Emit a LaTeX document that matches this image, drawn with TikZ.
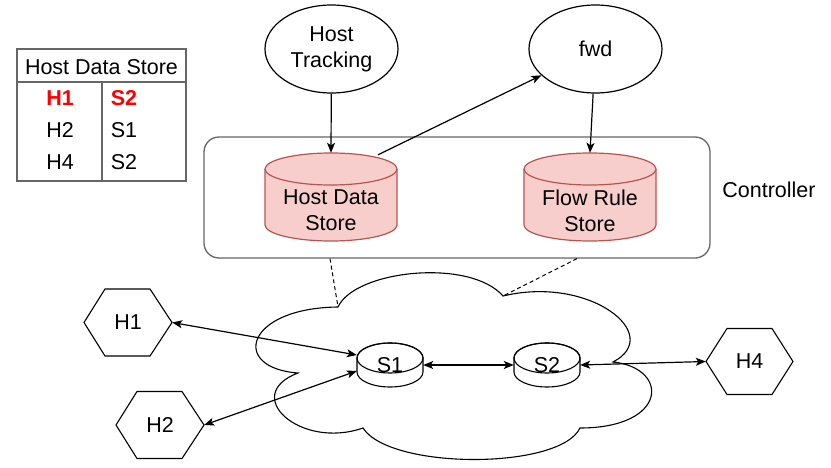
\documentclass[tikz,border=0pt]{standalone}
\usepackage{fontspec}
\setmainfont{Liberation Sans}
\usetikzlibrary{arrows.meta,shapes.geometric}
\definecolor{storefill}{HTML}{F8CECC}
\definecolor{storeline}{HTML}{B85450}
\definecolor{boxgray}{HTML}{666666}
\definecolor{hot}{HTML}{FF0000}
\begin{document}
\begin{tikzpicture}[x=1pt,y=-1pt,
  every node/.style={font=\fontsize{21.5pt}{26pt}\selectfont, inner sep=0pt},
  base/.style={line width=1.2pt, black},
  arr/.style={base, -{Stealth[length=10pt,width=8pt,inset=2.5pt]}},
  biarr/.style={base, {Stealth[length=10pt,width=8pt,inset=2.5pt]}-{Stealth[length=10pt,width=8pt,inset=2.5pt]}},
  proc/.style={ellipse, draw, line width=1.2pt, minimum width=133pt, minimum height=88pt, align=center},
  storebox/.style={minimum width=132pt, minimum height=88pt},
  storefillstyle/.style={fill=storefill, draw=storeline, line width=1.2pt},
  switchbox/.style={minimum width=66pt, minimum height=44pt},
  hostbox/.style={minimum width=88pt, minimum height=67pt},
  ctrlbox/.style={draw=boxgray, line width=1.3pt, rounded corners=15pt, minimum width=506pt, minimum height=121pt},
  tblline/.style={draw=boxgray, line width=1.5pt},
  dashline/.style={line width=1pt, dash pattern=on 4pt off 3pt}
]
\useasboundingbox (0,0) rectangle (831,468);

% ---- table ----
\draw[tblline] (17,49) rectangle (186,181);
\draw[tblline] (17,82) -- (186,82);
\draw[tblline] (102,82) -- (102,181);
\node (th) at (101.5,67) {Host Data Store};
\node[text=hot, font=\fontsize{21.5pt}{26pt}\selectfont\bfseries] (t1a) at (60,98) {H1};
\node[text=hot, font=\fontsize{21.5pt}{26pt}\selectfont\bfseries] (t1b) at (124,98) {S2};
\node (t2a) at (60,130) {H2};
\node (t2b) at (124,130) {S1};
\node (t3a) at (60,162) {H4};
\node (t3b) at (124,162) {S2};

% ---- controller ----
\node[ctrlbox] (ctrl) at (457,197.5) {};
\node (ctrllabel) at (769,190) {Controller};

% stores
\path[storefillstyle] (265,169) -- (265,225) arc[start angle=180,end angle=360,x radius=66pt,y radius=16pt] -- (397,169) arc[start angle=0,end angle=180,x radius=66pt,y radius=16pt] -- cycle;
\draw[storefillstyle] (265,169) arc[start angle=180,end angle=360,x radius=66pt,y radius=16pt];
\node[storebox] (hds) at (331,197) {};
\node[align=center] (hdsl) at (331,210.5) {Host Data\\Store};

\path[storefillstyle] (524,169) -- (524,225) arc[start angle=180,end angle=360,x radius=66pt,y radius=16pt] -- (656,169) arc[start angle=0,end angle=180,x radius=66pt,y radius=16pt] -- cycle;
\draw[storefillstyle] (524,169) arc[start angle=180,end angle=360,x radius=66pt,y radius=16pt];
\node[storebox] (frs) at (590,197) {};
\node[align=center] (frsl) at (590,210.5) {Flow Rule\\Store};

% apps
\node[proc] (ht) at (331.5,49) {Host\\Tracking};
\node[proc] (fwd) at (595.5,49) {fwd};

\draw[arr] (ht) -- (hds.north);
\draw[arr] ([xshift=47pt,yshift=-2pt]hds.north) -- (fwd);
\draw[arr] (fwd) -- (frs.north);

% ---- cloud ----
\coordinate (ca) at (338,307);
\coordinate (cb) at (503,296);
\draw[base, line width=1.1pt] (ca)
  .. controls (355,270) and (470,258) .. (cb)
  .. controls (590,275) and (665,335) .. (613,362)
  .. controls (670,368) and (668,428) .. (580,428)
  .. controls (560,470) and (390,470) .. (363,428)
  .. controls (300,450) and (240,395) .. (298,373)
  .. controls (230,368) and (245,308) .. (ca);
\draw[dashline] ([xshift=-127pt]ctrl.south) -- (ca);
\draw[dashline] ([xshift=120pt]ctrl.south) -- (cb);

% ---- switches ----
\filldraw[base, line width=1.1pt, fill=white] (357,358) -- (357,372) arc[start angle=180,end angle=360,x radius=33pt,y radius=15pt] -- (423,358) arc[start angle=0,end angle=180,x radius=33pt,y radius=15pt] -- cycle;
\draw[base, line width=1.1pt] (390,358) ellipse[x radius=33pt,y radius=15pt];
\node[switchbox] (s1) at (390,365) {S1};

\filldraw[base, line width=1.1pt, fill=white] (514,358) -- (514,372) arc[start angle=180,end angle=360,x radius=33pt,y radius=15pt] -- (580,358) arc[start angle=0,end angle=180,x radius=33pt,y radius=15pt] -- cycle;
\draw[base, line width=1.1pt] (547,358) ellipse[x radius=33pt,y radius=15pt];
\node[switchbox] (s2) at (547,365) {S2};

% ---- hosts ----
\draw[base, line width=1.1pt] (84,322.5) -- (105,289) -- (150,289) -- (172,322.5) -- (150,356) -- (105,356) -- cycle;
\node[hostbox] (h1) at (128,322.5) {H1};
\draw[base, line width=1.1pt] (116,425) -- (137,391.5) -- (182,391.5) -- (204,425) -- (182,458.5) -- (137,458.5) -- cycle;
\node[hostbox] (h2) at (160,425) {H2};
\draw[base, line width=1.1pt] (706,361.5) -- (727,328.5) -- (772,328.5) -- (793,361.5) -- (772,394.5) -- (727,394.5) -- cycle;
\node[minimum width=87pt, minimum height=66pt] (h4) at (749.5,361.5) {H4};

% ---- links ----
\draw[biarr] (h1.east) -- ([yshift=10pt]s1.west);
\draw[biarr] (h2.east) -- ([yshift=-6pt]s1.west);
\draw[biarr] (s1.east) -- (s2.west);
\draw[biarr] (s2.east) -- (h4.west);
\end{tikzpicture}
\end{document}
